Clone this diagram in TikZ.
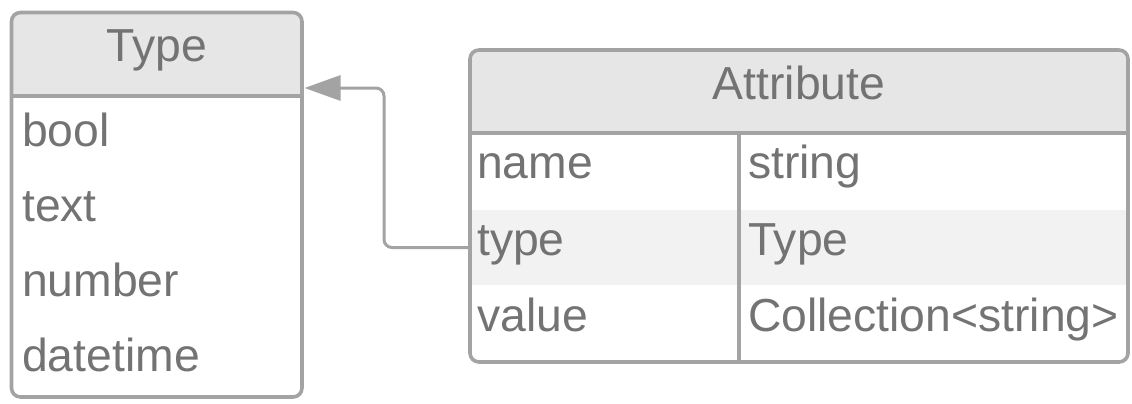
\documentclass[tikz,border=0pt]{standalone}
\usepackage{fontspec}
\setmainfont{Liberation Sans}
\usetikzlibrary{arrows.meta}
\definecolor{linec}{HTML}{A3A3A3}
\definecolor{headc}{HTML}{E6E6E6}
\definecolor{rowc}{HTML}{F2F2F2}
\definecolor{textc}{HTML}{737373}
\begin{document}
\begin{tikzpicture}[x=1bp,y=-1bp,
  boxline/.style={draw=linec, line width=3.6bp, rounded corners=9bp},
  sepline/.style={draw=linec, line width=3.6bp},
  lbl/.style={text=textc, font=\fontsize{46.3bp}{52bp}\selectfont, inner sep=0pt},
  conn/.style={draw=linec, line width=3bp, rounded corners=8bp,
    -{Triangle[length=36bp,width=25bp]}}]
\useasboundingbox (0,0) rectangle (1132,403);
% fills
\begin{scope}
  \clip[rounded corners=9bp] (11.5,12.5) rectangle (302,397);
  \fill[headc] (11.5,12.5) rectangle (302,96);
\end{scope}
\begin{scope}
  \clip[rounded corners=9bp] (470,50) rectangle (1128,362);
  \fill[headc] (470,50) rectangle (1128,132.7);
\end{scope}
\node[anchor=north west, inner sep=0pt, outer sep=0pt, fill=rowc,
  minimum width=658bp, minimum height=75bp] (attrrow2) at (470,210) {};
% connector
\coordinate (tin) at (304.5,88);
\draw[conn] (attrrow2.west) -- ++(-86,0) |- (tin);
% box outlines
\node[boxline, anchor=north west, inner sep=0pt, outer sep=0pt,
  minimum width=290.5bp, minimum height=384.5bp] (typebox) at (11.5,12.5) {};
\node[boxline, anchor=north west, inner sep=0pt, outer sep=0pt,
  minimum width=658bp, minimum height=312bp] (attrbox) at (470,50) {};
\coordinate (thl) at (0,96);
\coordinate (ahl) at (0,132.7);
\coordinate (coltop) at (739,132.7);
\draw[sepline] (typebox.west |- thl) -- (typebox.east |- thl);
\draw[sepline] (attrbox.west |- ahl) -- (attrbox.east |- ahl);
\draw[sepline] (coltop) -- (coltop |- attrbox.south);
% texts
\node[lbl, anchor=base] (typetitle) at (157,61.7) {Type};
\node[lbl, anchor=base west] (tbool) at (22,146) {bool};
\node[lbl, anchor=base west] (ttext) at (22,221.2) {text};
\node[lbl, anchor=base west] (tnumber) at (22,296.4) {number};
\node[lbl, anchor=base west] (tdatetime) at (22,371.7) {datetime};
\node[lbl, anchor=base] (attrtitle) at (799,99.3) {Attribute};
\node[lbl, anchor=base west] (aname) at (477,178.3) {name};
\node[lbl, anchor=base west] (atype) at (477,255) {type};
\node[lbl, anchor=base west] (avalue) at (477,331.7) {value};
\node[lbl, anchor=base west] (aname2) at (748,178.3) {string};
\node[lbl, anchor=base west] (atype2) at (748,255) {Type};
\node[lbl, anchor=base west] (avalue2) at (748,331.7) {Collection<string>};
\end{tikzpicture}
\end{document}
